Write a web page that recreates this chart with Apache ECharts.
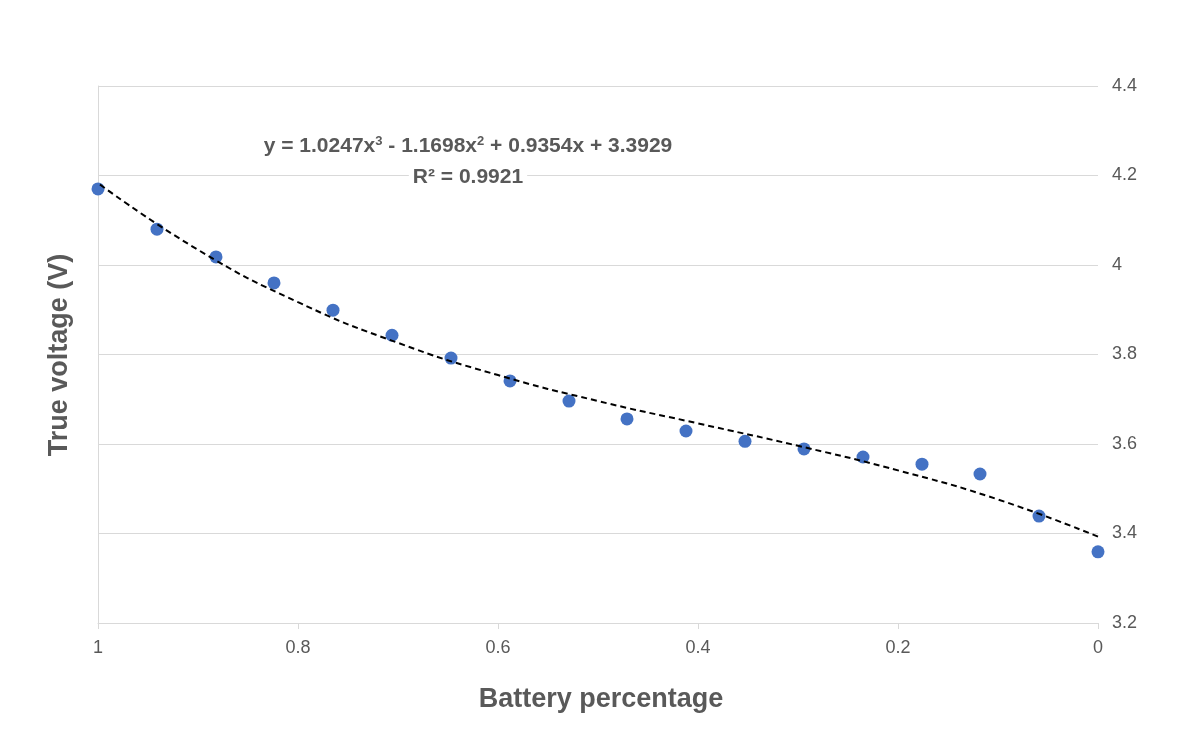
<!DOCTYPE html>
<html lang="en">
<head>
    <meta charset="UTF-8">
    <title>Battery voltage</title>
    <style>
        html, body { margin: 0; padding: 0; width: 100%; height: 100%; background: #fff; }
        #chart { width: 1202px; height: 752px; }
    </style>
</head>
<body>
<div id="chart"></div>
<script src="https://cdn.jsdelivr.net/npm/echarts@6/dist/echarts.min.js"></script>
<script>
    // measured points
    var batteryPct = [1, 0.941, 0.882, 0.824, 0.765, 0.706, 0.647, 0.588, 0.529, 0.471,
                      0.412, 0.353, 0.294, 0.235, 0.176, 0.118, 0.059, 0];
    var trueVoltage = [4.170, 4.080, 4.018, 3.960, 3.899, 3.843, 3.792, 3.741, 3.696, 3.656,
                       3.629, 3.606, 3.589, 3.571, 3.555, 3.533, 3.439, 3.359];
    // trendline
    var trendX = [0, 0.1, 0.2, 0.3, 0.4, 0.5, 0.6, 0.7, 0.8, 0.9, 1];
    var trendY = [3.393, 3.476, 3.541, 3.596, 3.646, 3.696, 3.754, 3.826, 3.917, 4.034, 4.183];

    var grey = '#595959';
    var chart = echarts.init(document.getElementById('chart'));

    var option = {
        animation: false,
        grid: { left: 98, right: 104, top: 86, bottom: 129 },
        xAxis: {
            type: 'value', min: 0, max: 1, interval: 0.2, inverse: true,
            axisLine: { show: true, lineStyle: { color: '#d9d9d9' } },
            axisTick: { show: true, length: 6, lineStyle: { color: '#d9d9d9' } },
            splitLine: { show: false },
            axisLabel: { color: grey, fontSize: 18, margin: 16, fontFamily: 'Liberation Sans' }
        },
        yAxis: [{
            type: 'value', position: 'right', min: 3.2, max: 4.4, interval: 0.2,
            axisLine: { show: false }, axisTick: { show: false },
            splitLine: { lineStyle: { color: '#d9d9d9' } },
            axisLabel: {
                color: grey, fontSize: 18, margin: 14, fontFamily: 'Liberation Sans',
                formatter: function (v) { return +v.toFixed(1) + ''; }
            }
        }, {
            type: 'value', position: 'left', min: 3.2, max: 4.4,
            axisLine: { show: true, lineStyle: { color: '#d9d9d9' } },
            axisTick: { show: false }, axisLabel: { show: false }, splitLine: { show: false }
        }],
        series: [{
            type: 'line',
            data: trendX.map(function (x, i) { return [x, trendY[i]]; }),
            smooth: true, showSymbol: false,
            lineStyle: { color: '#000', width: 2, type: [6, 4] }
        }, {
            type: 'scatter',
            data: batteryPct.map(function (x, i) { return [x, trueVoltage[i]]; }),
            symbolSize: 13,
            itemStyle: { color: '#4472c4', opacity: 1 }
        }],
        graphic: [{
            type: 'text', left: 'center', top: 686,
            style: { text: 'Battery percentage', fill: grey, font: 'bold 27px "Liberation Sans"' }
        }, {
            type: 'text', x: 60, y: 355, rotation: Math.PI / 2,
            style: { text: 'True voltage (V)', fill: grey, font: 'bold 27px "Liberation Sans"',
                     align: 'center', verticalAlign: 'middle' }
        }, {
            type: 'text', x: 468, y: 146, z: 100,
            style: {
                text: '{b|y = 1.0247x}{s|3}{b| - 1.1698x}{s|2}{b| + 0.9354x + 3.3929}',
                align: 'center', verticalAlign: 'middle',
                backgroundColor: '#fff', padding: [2, 4],
                rich: {
                    b: { fill: grey, font: 'bold 21px "Liberation Sans"' },
                    s: { fill: grey, font: 'bold 13px "Liberation Sans"', padding: [0, 0, 10, 0] }
                }
            }
        }, {
            type: 'text', x: 468, y: 177, z: 100,
            style: { text: 'R² = 0.9921', fill: grey, font: 'bold 21px "Liberation Sans"',
                     align: 'center', verticalAlign: 'middle',
                     backgroundColor: '#fff', padding: [2, 4] }
        }]
    };
    chart.setOption(option);
</script>
</body>
</html>
